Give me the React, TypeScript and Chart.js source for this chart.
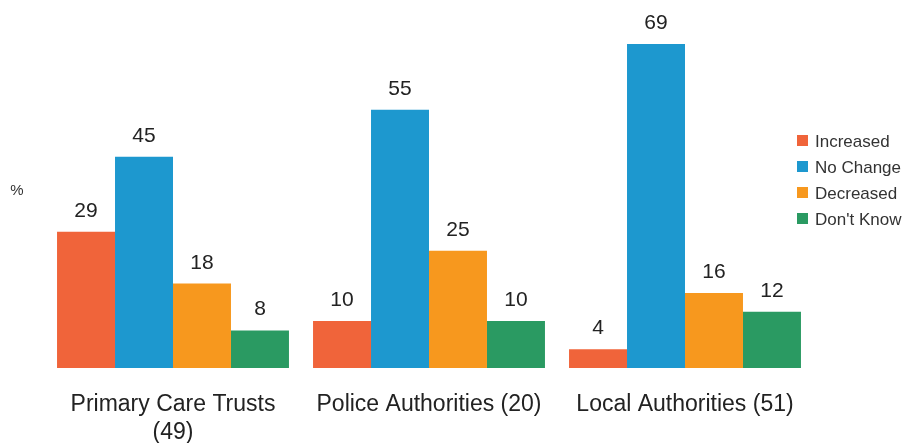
import React, { useEffect, useRef } from "react";
import { Chart, registerables } from "chart.js";

Chart.register(...registerables);

const categories: (string | string[])[] = [
  ["Primary Care Trusts", "(49)"],
  "Police Authorities (20)",
  "Local Authorities (51)",
];
const seriesNames = ["Increased", "No Change", "Decreased", "Don't Know"];
const increased = [29, 10, 4];
const noChange = [45, 55, 69];
const decreased = [18, 25, 16];
const dontKnow = [8, 10, 12];
const seriesColors = ["#F0643A", "#1D98CF", "#F7981E", "#2A9A62"];
const yAxisLabel = "%";

const FONT = "'Liberation Sans', Arial, Helvetica, sans-serif";

const labelsPlugin = {
  id: "customLabels",
  afterDatasetsDraw(chart: any) {
    const ctx = chart.ctx;
    ctx.save();
    // value labels
    ctx.font = `21px ${FONT}`;
    ctx.fillStyle = "#222";
    ctx.textAlign = "center";
    ctx.textBaseline = "alphabetic";
    chart.data.datasets.forEach((ds: any, i: number) => {
      const meta = chart.getDatasetMeta(i);
      meta.data.forEach((bar: any, j: number) => {
        ctx.fillText(String(ds.data[j]), bar.x, bar.y - 15);
      });
    });
    // legend
    ctx.font = `17px ${FONT}`;
    ctx.textAlign = "left";
    ctx.textBaseline = "middle";
    chart.data.datasets.forEach((ds: any, i: number) => {
      const cy = 141 + i * 26;
      ctx.fillStyle = ds.backgroundColor;
      ctx.fillRect(797, cy - 6, 11, 11);
      ctx.fillStyle = "#333";
      ctx.fillText(ds.label, 815, cy + 1);
    });
    // % label
    ctx.font = `15px ${FONT}`;
    ctx.textAlign = "center";
    ctx.fillStyle = "#333";
    ctx.fillText(yAxisLabel, 17, 191);
    ctx.restore();
  },
};

export default function App() {
  const ref = useRef<HTMLCanvasElement>(null);
  useEffect(() => {
    document.body.style.margin = "0";
    const seriesData = [increased, noChange, decreased, dontKnow];
    const chart = new Chart(ref.current!, {
      type: "bar",
      data: {
        labels: categories as any,
        datasets: seriesNames.map((name, i) => ({
          label: name,
          data: seriesData[i],
          backgroundColor: seriesColors[i],
          borderWidth: 0,
          categoryPercentage: 0.906,
          barPercentage: 1.0,
        })),
      },
      options: {
        responsive: false,
        animation: false,
        layout: { padding: { left: 45, right: 92, top: 30, bottom: 0 } },
        plugins: {
          legend: { display: false },
          tooltip: { enabled: false },
        },
        scales: {
          x: {
            grid: { display: false, drawTicks: false },
            border: { display: false },
            afterFit: (scale: any) => {
              scale.height = 75;
            },
            ticks: {
              color: "#222",
              padding: 23,
              maxRotation: 0,
              autoSkip: false,
              font: { family: FONT, size: 23, lineHeight: 1.2 },
            },
          },
          y: {
            display: false,
            min: 0,
            max: 72,
          },
        },
      },
      plugins: [labelsPlugin],
    });
    return () => chart.destroy();
  }, []);
  return (
    <div style={{ width: 905, height: 443 }}>
      <canvas ref={ref} width={905} height={443} style={{ display: "block" }} />
    </div>
  );
}
